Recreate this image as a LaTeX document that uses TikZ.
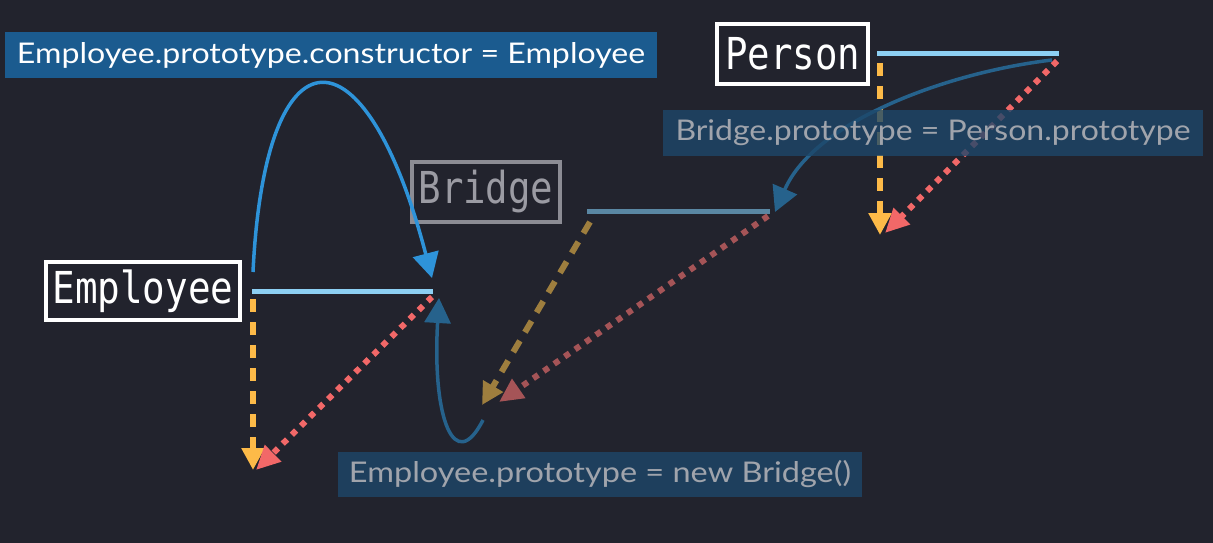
\documentclass[tikz,border=0pt]{standalone}
\usepackage{fontspec}
\usepackage{graphicx}
\setmainfont{Lato}
\newfontfamily\codefont{DejaVu Sans Mono}
\usetikzlibrary{arrows.meta}
\definecolor{bg}{RGB}{34,35,45}
\definecolor{lblblue}{RGB}{27,91,143}
\definecolor{lbldim}{RGB}{29,71,106}
\definecolor{lbltext}{RGB}{160,164,172}
\definecolor{protolight}{RGB}{141,207,243}
\definecolor{protodim}{RGB}{90,135,163}
\definecolor{yel}{RGB}{253,186,72}
\definecolor{yeldim}{RGB}{158,126,62}
\definecolor{redd}{RGB}{242,104,104}
\definecolor{reddim}{RGB}{165,84,87}
\definecolor{curvebright}{RGB}{46,147,217}
\definecolor{curvedim}{RGB}{38,98,140}
\definecolor{graybox}{RGB}{140,140,148}
\definecolor{graytext}{RGB}{155,155,163}
\newcommand\codew[2]{\resizebox{#1}{\height}{\fontsize{44}{46}\selectfont\codefont #2}}
\newcommand\lblw[2]{\resizebox{#1}{\height}{\fontsize{28.5}{30}\selectfont #2}}
\tikzset{
  classbox/.style={draw=white, line width=4pt, inner sep=0pt, text=white},
  codelabel/.style={fill=lblblue, inner sep=0pt, text=white},
  codelabeldim/.style={fill=lbldim, fill opacity=0.8, text opacity=1, inner sep=0pt, text=lbltext},
  protoline/.style={line width=5pt, protolight},
  yeldash/.style={line width=6pt, dash pattern=on 13pt off 10pt, -{Triangle[length=22pt,width=22pt]}},
  reddot/.style={line width=6pt, dash pattern=on 6pt off 6.7pt, -{Triangle[length=24pt,width=22pt]}},
  curvearrow/.style={line width=3.5pt, -{Triangle[length=25pt,width=26pt]}},
}
\begin{document}
\begin{tikzpicture}[x=1pt,y=-1pt]
\useasboundingbox[fill=bg] (0,0) rectangle (1213,543);

% class boxes
\node[classbox, minimum width=194pt, minimum height=58pt] (employee) at (143,291) {\codew{181pt}{Employee}};
\node[classbox, draw=graybox, text=graytext, minimum width=148pt, minimum height=60pt] (bridge) at (486,192) {\codew{135pt}{Bridge}};
\node[classbox, minimum width=151pt, minimum height=60pt] (person) at (792.5,54) {\codew{135pt}{Person}};

% prototype bars
\coordinate (eL) at (252,291); \coordinate (eR) at (433,291);
\coordinate (bL) at (587,211); \coordinate (bR) at (770,211);
\coordinate (pL) at (877,54);  \coordinate (pR) at (1059,54);
\draw[protoline] (eL) -- (eR);
\draw[protoline, protodim] (bL) -- (bR);
\draw[protoline] (pL) -- (pR);

% dashed yellow arrows
\coordinate (eY0) at (253,299); \coordinate (eY1) at (253,470);
\coordinate (pY0) at (880,63);  \coordinate (pY1) at (880,235);
\coordinate (bY0) at (590,222); \coordinate (bY1) at (482,405);
\draw[yeldash, yel] (eY0) -- (eY1);
\draw[yeldash, yel] (pY0) -- (pY1);
\draw[yeldash, yeldim] (bY0) -- (bY1);

% dotted red arrows
\coordinate (eR0) at (432,297); \coordinate (eR1) at (256,470);
\coordinate (pR0) at (1057,61); \coordinate (pR1) at (885,233);
\coordinate (bR0) at (768,216); \coordinate (bR1) at (499,402);
\draw[reddot, redd] (eR0) -- (eR1);
\draw[reddot, redd] (pR0) -- (pR1);
\draw[reddot, reddim] (bR0) -- (bR1);

% curved blue arrows
\coordinate (c1a) at (253,272); \coordinate (c1b) at (432,278);
\draw[curvearrow, curvebright] (c1a) .. controls (265,22) and (365,22) .. (c1b);
\coordinate (c2a) at (1052,60); \coordinate (c2b) at (775,212);
\draw[curvearrow, curvedim] (c2a) .. controls (950,72) and (815,120) .. (c2b);
\coordinate (c3a) at (483,420); \coordinate (c3b) at (439,298);
\draw[curvearrow, curvedim] (c3a) .. controls (455,475) and (432,420) .. (c3b);

% code labels
\node[codelabel, minimum width=652pt, minimum height=46pt] (lblctor) at (331,55) {\lblw{628pt}{Employee.prototype.constructor = Employee}};
\node[codelabeldim, minimum width=540pt, minimum height=46pt] (lblbridge) at (933,133) {\lblw{515pt}{Bridge.prototype = Person.prototype}};
\node[codelabeldim, minimum width=524pt, minimum height=45pt] (lblemp) at (600,474.5) {\lblw{502pt}{Employee.prototype = new Bridge()}};
\end{tikzpicture}
\end{document}
